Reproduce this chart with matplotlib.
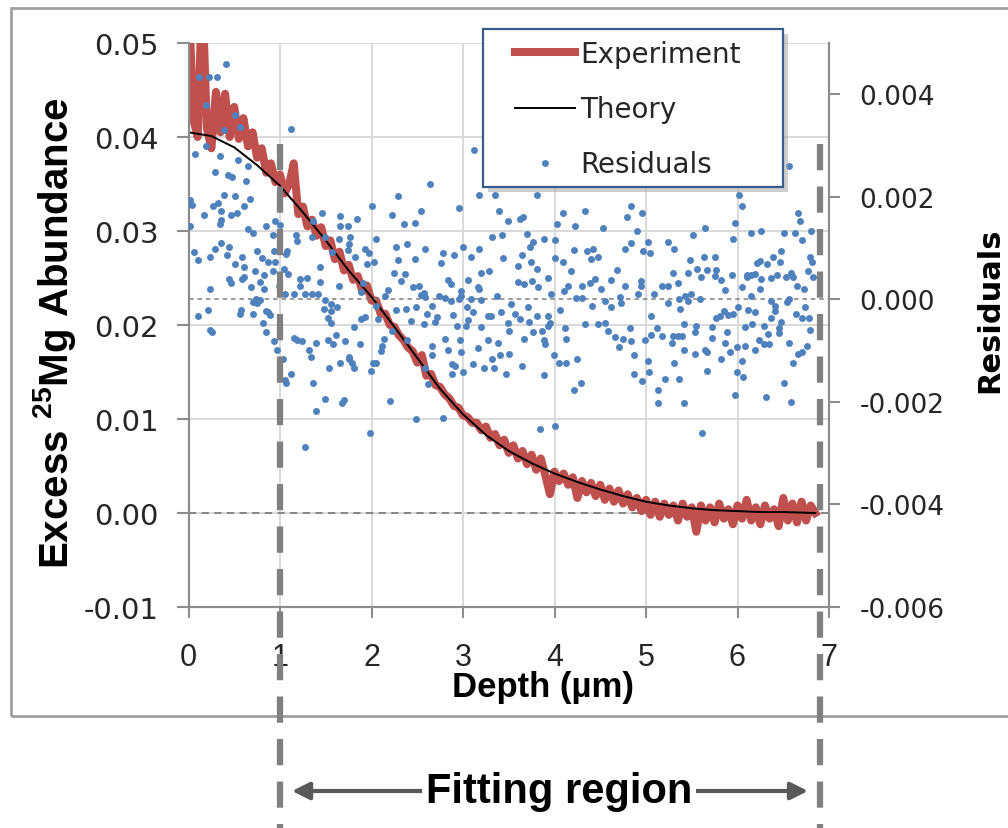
import matplotlib

matplotlib.use("Agg")
import matplotlib.pyplot as plt
import matplotlib.transforms as mtransforms
import numpy as np
from matplotlib.lines import Line2D
from matplotlib.patches import FancyArrowPatch, Rectangle

plt.rcParams["font.family"] = ["DejaVu Sans"]
plt.rcParams["axes.unicode_minus"] = False
plt.rcParams["mathtext.fontset"] = "custom"
plt.rcParams["mathtext.rm"] = "Liberation Sans"
plt.rcParams["mathtext.bf"] = "Liberation Sans:bold"

# measured profile, abundance in units of 1e-3
exp_depth = [
    0.00, 0.05, 0.10, 0.15, 0.20, 0.25, 0.30, 0.35, 0.40, 0.45,
    0.50, 0.55, 0.60, 0.65, 0.70, 0.75, 0.80, 0.85, 0.90, 0.95,
    1.00, 1.05, 1.10, 1.15, 1.20, 1.25, 1.30, 1.35, 1.40, 1.45,
    1.50, 1.55, 1.60, 1.65, 1.70, 1.75, 1.80, 1.85, 1.90, 1.95,
    2.00, 2.05, 2.10, 2.15, 2.20, 2.25, 2.30, 2.35, 2.40, 2.45,
    2.50, 2.55, 2.60, 2.65, 2.70, 2.75, 2.80, 2.85, 2.90, 2.95,
    3.00, 3.05, 3.10, 3.15, 3.20, 3.25, 3.30, 3.35, 3.40, 3.45,
    3.50, 3.55, 3.60, 3.65, 3.70, 3.75, 3.80, 3.85, 3.90, 3.95,
    4.00, 4.05, 4.10, 4.15, 4.20, 4.25, 4.30, 4.35, 4.40, 4.45,
    4.50, 4.55, 4.60, 4.65, 4.70, 4.75, 4.80, 4.85, 4.90, 4.95,
    5.00, 5.05, 5.10, 5.15, 5.20, 5.25, 5.30, 5.35, 5.40, 5.45,
    5.50, 5.55, 5.60, 5.65, 5.70, 5.75, 5.80, 5.85, 5.90, 5.95,
    6.00, 6.05, 6.10, 6.15, 6.20, 6.25, 6.30, 6.35, 6.40, 6.45,
    6.50, 6.55, 6.60, 6.65, 6.70, 6.75, 6.80, 6.85,
]
exp_milli = [
    56.0, 42.0, 40.0, 56.0, 41.0, 38.8, 44.8, 40.5, 44.6, 40.0,
    43.2, 39.8, 42.0, 39.0, 40.5, 37.8, 38.8, 36.2, 37.2, 35.2,
    36.0, 34.0, 35.0, 37.2, 31.8, 32.6, 30.5, 31.2, 29.5, 30.4,
    28.4, 29.0, 27.0, 27.8, 25.8, 26.4, 24.8, 25.2, 23.6, 24.2,
    22.6, 22.6, 21.2, 21.2, 20.0, 19.8, 18.9, 18.4, 17.6, 17.2,
    16.0, 16.8, 14.6, 14.8, 13.6, 13.4, 12.6, 12.2, 11.4, 11.2,
    10.4, 10.2, 9.6, 9.6, 8.8, 9.2, 8.0, 8.4, 7.2, 7.8,
    6.4, 7.2, 5.8, 6.6, 5.2, 6.2, 4.6, 5.8, 4.0, 2.0,
    4.4, 3.4, 4.2, 3.0, 3.8, 1.6, 3.4, 2.2, 3.2, 1.8,
    3.0, 1.4, 2.6, 1.2, 2.4, 1.0, 2.0, 0.6, 1.6, 0.2,
    1.4, -0.2, 1.2, -0.4, 1.0, -0.2, 0.8, -0.8, 1.0, -0.4,
    0.6, -2.0, 0.8, -0.8, 0.6, -1.0, 1.0, -0.6, 0.4, -1.2,
    0.8, -0.6, 1.4, -0.8, 0.6, -1.2, 0.8, -0.6, 0.4, -1.4,
    1.6, -0.8, 1.0, -1.0, 1.2, -0.8, 0.8, 0.0,
]

# fitted diffusion profile, units of 1e-3
theory_depth = [0.0, 0.25, 0.5, 0.75, 1.0, 1.25, 1.5, 1.75, 2.0, 2.25, 2.5, 2.75, 3.0, 3.25,
                3.5, 3.75, 4.0, 4.25, 4.5, 4.75, 5.0, 5.25, 5.5, 5.75, 6.0, 6.25, 6.5, 6.85]
theory_milli = [40.5, 40.1, 38.9, 37.0, 34.8, 32.0, 29.0, 25.8, 23.0, 19.8, 16.5, 13.2, 10.5, 8.3,
                6.6, 5.3, 4.2, 3.3, 2.5, 1.8, 1.2, 0.8, 0.5, 0.3, 0.2, 0.1, 0.1, 0.0]

# residuals (right axis), units of 1e-3
res_depth = [
    # 0 - 1.8 um
    0.41, 0.12, 0.22, 0.31, 0.19, 0.51, 0.39, 0.56, 1.12, 0.19,
    0.07, 0.34, 0.54, 0.65, 0.29, 0.43, 0.48, 0.63, 0.39, 0.51,
    0.02, 0.035, 0.67, 0.61, 0.27, 0.32, 0.36, 0.17, 0.46, 0.53,
    0.36, 0.34, 0.02, 0.65, 0.71, 0.85, 0.95, 1.00, 0.92, 0.06,
    0.10, 0.24, 0.29, 0.36, 0.44, 0.42, 0.59, 0.75, 0.80, 0.93,
    0.87, 0.95, 0.51, 0.61, 0.73, 0.92, 1.04, 1.09, 0.44, 0.46,
    0.61, 0.58, 0.83, 0.78, 0.68, 0.83, 0.24, 0.99, 1.05, 1.15,
    1.22, 1.30, 1.22, 1.44, 1.27, 1.35, 1.41, 0.74, 0.75, 0.78,
    0.71, 1.49, 1.48, 0.21, 0.57, 0.56, 0.71, 0.85, 0.89, 0.87,
    0.10, 1.56, 1.62, 1.56, 1.53, 1.56, 0.81, 0.24, 0.26, 0.85,
    0.93, 0.97, 1.15, 1.19, 1.24, 1.39, 1.32, 1.34, 1.53, 1.58,
    1.61, 1.71, 1.03, 1.12, 1.05, 1.07, 1.54, 1.66, 1.75, 1.36,
    1.49, 1.39, 1.68, 1.70, 1.27, 1.46, 1.36, 1.66, 1.66, 1.74,
    1.17, 1.19, 1.35, 1.49, 1.64, 1.57, 1.74, 1.08, 1.07, 1.44,
    1.64, 1.75,
    # 1.8 - 3.5 um
    3.12, 2.64, 2.29, 2.00, 2.22, 2.35, 2.47, 2.54, 2.96, 3.18,
    3.35, 3.39, 3.49, 1.84, 1.76, 2.05, 1.93, 1.97, 2.03,
    1.95, 1.82, 2.27, 2.39, 2.29, 2.47, 2.59, 2.25, 2.37, 2.32,
    2.18, 2.15, 2.45, 2.52, 2.54, 2.58, 2.66, 2.49, 2.38, 2.27,
    2.78, 2.90, 2.76, 3.00, 3.09, 3.18, 3.28, 3.20, 3.16, 3.06,
    2.84, 2.87, 2.74, 2.80, 2.87, 2.98, 2.98, 3.09, 3.20, 3.37,
    3.44, 3.43, 3.32, 3.04, 3.11, 3.06, 3.03, 2.93, 2.89, 2.72,
    2.69, 2.61, 2.57, 2.43, 3.20, 3.27, 3.31, 3.41, 3.49, 2.80,
    2.97, 2.84, 2.66, 2.66, 2.98, 3.16, 3.27, 3.38, 3.40, 3.32,
    3.50, 3.11, 3.23, 3.34, 2.88, 2.91, 2.88, 3.00, 3.47, 1.87,
    1.75, 1.79, 1.81, 2.02, 2.05, 1.99, 2.10, 2.12, 2.14,
    1.81, 1.93, 2.20, 2.49, 2.78, 1.98, 2.62, 2.58, 1.88,
    1.91, 1.88, 2.05, 2.07, 2.22, 2.39, 2.57, 3.18, 2.96,
    # 3.5 - 5.2 um
    3.81, 4.09, 4.33, 4.84, 4.96, 4.79, 3.62, 3.66, 4.03,
    4.22, 4.53, 4.90, 4.84, 4.77, 4.97, 5.04, 5.02, 5.24, 3.70,
    3.77, 3.73, 3.89, 4.01, 4.21, 4.35, 4.42, 4.48, 4.40, 3.65,
    3.60, 3.74, 3.81, 4.01, 4.09, 4.18, 3.93, 3.60, 3.67, 3.75,
    3.82, 3.96, 4.10, 4.15, 4.30, 4.39, 4.44, 4.51, 4.62, 4.68,
    4.77, 4.95, 4.95, 4.91, 5.09, 5.17, 5.24, 4.23, 4.30, 4.41,
    4.55, 4.62, 4.72, 4.73, 3.53, 3.71, 3.57, 3.62, 3.72, 3.81,
    3.93, 3.93, 4.06, 3.95, 4.11, 4.33, 4.48, 4.55, 4.59, 4.66,
    4.75, 4.84, 4.83, 4.70, 5.06, 5.12, 5.17, 5.05, 4.99, 3.50,
    3.67, 3.77, 3.86, 3.88, 3.90, 4.13, 3.99, 4.05,
    4.13, 4.25, 3.64, 3.89, 4.87, 5.02, 4.87, 5.03, 4.96,
    5.21, 4.29, 4.21, 5.13, 5.13, 3.84, 4.01,
    # 5.2 - 6.9 um
    6.56, 6.02, 6.05, 5.97, 5.95, 6.66, 6.68, 5.65, 5.51, 6.15,
    6.26, 6.51, 6.63, 6.80, 6.70, 5.31, 6.48, 5.48, 5.56,
    5.63, 5.75, 5.67, 5.60, 5.46, 5.29, 5.35, 5.77, 5.75,
    5.82, 5.94, 5.86, 6.05, 6.10, 6.15, 6.21, 6.25, 6.32, 6.39,
    6.46, 6.37, 6.43, 6.53, 6.58, 6.61, 6.26, 6.19, 6.10, 6.79,
    6.81, 6.77, 6.83, 6.73, 6.65, 6.25, 6.15, 5.43, 5.49, 5.36,
    5.59, 5.37, 5.24, 5.46, 6.37, 6.41, 6.56, 6.54, 6.74, 6.00,
    5.95, 6.12, 6.19, 5.85, 5.77, 5.90, 5.81, 6.37, 6.41, 6.64,
    6.71, 6.78, 5.42, 5.55, 5.72, 6.08, 6.16, 6.29, 6.48, 6.45,
    6.45, 6.33, 6.79, 5.54, 5.72, 5.89, 5.29, 5.35, 5.39, 5.28,
    6.24, 6.29, 6.34, 6.56, 6.76, 5.86, 5.99, 6.08, 6.19, 5.92,
    5.41, 5.54, 5.64, 5.67, 6.66, 6.70, 5.82, 6.05, 5.31, 6.61,
    5.67, 5.99, 6.06, 5.36, 6.51, 5.97, 6.31, 6.59,
    5.41, 5.61,
]
res_milli = [
    4.59, 4.33, 4.33, 4.33, 3.80, 3.59, 3.31, 3.36, 3.33, 3.00,
    2.84, 2.79, 2.71, 2.61, 2.48, 2.43, 2.39, 2.30, 2.04, 2.01,
    1.94, 1.84, 1.95, 1.83, 1.83, 1.88, 1.73, 1.65, 1.65, 1.68,
    1.55, 1.47, 1.43, 1.37, 1.29, 1.43, 1.52, 1.46, 1.26, 0.92,
    0.76, 0.82, 0.98, 1.09, 1.03, 0.86, 0.82, 0.95, 0.80, 0.95,
    0.73, 0.73, 0.69, 0.63, 0.56, 0.56, 0.60, 0.50, 0.39, 0.31,
    0.44, 0.39, 0.47, 0.33, 0.24, 0.21, 0.21, 0.27, 0.11, 0.11,
    0.40, 0.42, 0.27, 0.34, 0.10, 0.11, 0.11, 0.00, -0.07, -0.02,
    -0.05, -0.02, -0.18, -0.20, -0.20, -0.29, -0.29, -0.23, -0.31, -0.25,
    -0.33, -0.09, -0.15, -0.23, -0.36, -0.46, -0.46, -0.59, -0.64, -0.64,
    -0.82, -0.99, -0.76, -0.80, -0.82, -0.86, -0.99, -1.12, -0.80, -0.88,
    -0.69, -0.82, -1.16, -1.46, -1.57, -1.64, -1.34, -1.25, -1.16, -1.64,
    -1.95, -2.18, -2.03, -1.97, -2.88, 1.69, 1.52, 1.63, 1.43, 1.43,
    1.26, 1.13, 1.21, 1.22, 1.17, 0.93, 0.97, 0.95, 0.88, 0.63,
    0.27, 1.08,
    2.92, 2.25, 2.01, 1.82, 1.65, 1.47, 1.48, 1.73, 1.78, 2.04,
    2.04, 1.73, 1.52, 1.56, 1.22, 1.17, 0.99, 0.90, 0.73,
    0.69, 0.82, 1.03, 1.08, 0.76, 0.78, 0.98, 0.52, 0.50, 0.36,
    0.19, 0.06, 0.24, 0.27, 0.08, 0.05, -0.12, -0.15, -0.18, -0.20,
    0.91, 0.86, 0.70, 1.03, 0.82, 0.99, 0.56, 0.52, 0.24, 0.37,
    0.37, 0.29, 0.06, 0.03, -0.03, 0.16, 0.06, 0.01, -0.02, 0.06,
    0.80, 1.26, 1.21, -0.15, -0.25, -0.41, -0.51, -0.51, -0.31, -0.35,
    -0.45, -0.29, -0.48, -0.42, -0.54, -0.33, -0.33, -0.25, -0.46, -0.77,
    -0.80, -0.99, -0.90, -1.08, -1.03, -0.95, -0.80, -0.86, -1.08, -1.16,
    -1.07, -1.26, -1.34, -1.34, -1.27, -1.29, -1.46, -1.42, -1.46, -0.87,
    -1.12, -1.25, -1.34, -1.25, -1.25, -1.39, -1.01, -0.90, -0.77,
    -0.54, -0.35, -1.99, -2.34, -2.31, -2.60, -1.65, -1.33, -0.38,
    0.31, 0.14, -0.12, -0.38, -0.61, -0.79, 0.12, 0.21, 0.00,
    2.04, 1.69, 1.73, 1.83, 1.68, 1.60, 1.56, 1.60, 1.47,
    1.43, 1.39, 1.34, 1.09, 0.99, 0.95, 0.91, 1.12, 1.12, 1.27,
    1.12, 1.03, 1.17, 1.16, 0.97, 0.95, 0.99, 0.82, 0.78, 0.86,
    0.65, 0.73, 0.60, 0.80, 0.73, 0.56, 0.42, 0.34, 0.29, 0.36,
    0.24, 0.11, 0.16, 0.27, 0.26, 0.31, 0.39, 0.21, 0.37, 0.58,
    0.26, 0.36, 0.27, 0.10, 0.11, 0.26, 0.27, 0.03, 0.03, -0.12,
    -0.03, -0.15, 0.05, -0.07, -0.09, -0.15, -0.29, -0.38, -0.44, -0.33,
    -0.33, -0.51, -0.20, -0.46, -0.56, -0.49, -0.49, -0.46, -0.62, -0.73,
    -0.77, -0.82, -0.56, -0.93, -0.33, -0.56, -0.71, -0.69, -0.80, -0.62,
    -0.77, -0.64, -0.62, -0.80, -0.88, -0.77, -1.08, -1.25,
    -1.25, -1.16, -1.29, -1.47, -1.08, -1.21, -1.46, -1.42, -1.60,
    -1.56, -1.64, -1.77, -1.77, -2.03, -2.52, -2.47,
    2.61, 2.04, 1.82, 1.48, 1.17, 1.69, 1.52, 1.39, 1.26, 1.30,
    1.34, 1.30, 1.30, 1.34, 1.16, 0.99, 0.95, 0.76, 0.60,
    0.82, 0.82, 0.58, 0.43, 0.52, 0.52, 0.31, 0.57, 0.45,
    0.37, 0.47, 0.18, 0.24, 0.43, 0.47, 0.71, 0.75, 0.69, 0.82,
    0.73, 0.41, 0.47, 0.44, 0.52, 0.43, 0.39, 0.50, 0.47, 0.82,
    0.73, 0.55, 0.43, 0.21, 0.26, 0.21, 0.06, 0.06, 0.10, 0.01,
    0.01, -0.18, -0.07, -0.03, -0.03, -0.12, 0.01, -0.05, -0.15, -0.15,
    -0.28, -0.20, -0.25, -0.23, -0.36, -0.31, -0.33, -0.36, -0.23, -0.29,
    -0.36, -0.36, -0.49, -0.51, -0.53, -0.53, -0.49, -0.51, -0.45, -0.56,
    -0.66, -0.67, -0.59, -0.64, -0.75, -0.64, -0.71, -0.71, -0.71, -0.86,
    -0.79, -0.88, -0.88, -0.86, -0.90, -0.86, -0.93, -0.90, -0.99, -1.03,
    -0.99, -1.07, -0.99, -1.03, -1.07, -1.03, -1.16, -1.21, -1.25, -1.25,
    -1.39, -1.42, -1.51, -1.56, -1.64, -1.86, -1.90, -2.00,
    -2.03, -2.60,
]

fit_bounds = [1.0, 6.9]
x_ticks = [0, 1, 2, 3, 4, 5, 6, 7]
left_ticks = [-0.01, 0.00, 0.01, 0.02, 0.03, 0.04, 0.05]
right_ticks = [-0.006, -0.004, -0.002, 0.000, 0.002, 0.004]

W, H = 1008, 829
RED = "#C0504D"
BLUE = "#4F81BD"
AXIS_GREY = "#8C8C8C"
TEXT = "#262626"


def fx(px):
    return px / W


def fy(py):
    return 1 - py / H


fig = plt.figure(figsize=(W / 100, H / 100), dpi=100)
fig.patch.set_facecolor("white")
ax = fig.add_axes([fx(188.5), fy(608), 640.5 / W, 564 / H])
ax2 = ax.twinx()

# outer chart border
fig.add_artist(Rectangle((fx(11), fy(717)), fx(1040) - fx(11), fy(9) - fy(717),
                         transform=fig.transFigure, fill=False, ec="#A0A0A0", lw=2, zorder=0))

ax.set_xlim(0, 7)
ax.set_ylim(-0.01, 0.05)
ax2.set_ylim(-0.006, 0.005)
ax.set_xticks(x_ticks)
ax.set_xticklabels([str(t) for t in x_ticks], fontfamily="Liberation Sans", fontsize=22, color=TEXT)
ax.set_yticks(left_ticks)
ax.set_yticklabels([f"{t:.2f}" for t in left_ticks], fontsize=21, color=TEXT)
ax2.set_yticks(right_ticks)
ax2.set_yticklabels([f"{t:.3f}" for t in right_ticks], fontsize=19, color=TEXT)

ax.grid(True, color="#D9D9D9", lw=1.4)
ax.set_axisbelow(True)
for a in (ax, ax2):
    a.spines["top"].set_visible(False)
    for side in ("left", "bottom", "right"):
        a.spines[side].set_color(AXIS_GREY)
        a.spines[side].set_linewidth(1.5)
ax.tick_params(axis="y", direction="out", length=8.5, width=1.5, color=AXIS_GREY, pad=13)
ax.tick_params(axis="x", direction="out", length=8, width=1.5, color=AXIS_GREY, pad=17)
ax2.tick_params(axis="y", direction="out", length=8, width=1.5, color=AXIS_GREY, pad=14)

ax.axhline(0, color="#7F7F7F", lw=1.3, ls=(0, (4, 3)), zorder=1)
ax2.axhline(0, color="#7F7F7F", lw=1.1, ls=(0, (3, 2.5)), zorder=1)

ax.plot(exp_depth, np.array(exp_milli) * 1e-3, color=RED, lw=5.8, solid_joinstyle="round", zorder=2)
ax.plot(theory_depth, np.array(theory_milli) * 1e-3, color="black", lw=1.4, zorder=3)
ax2.plot(res_depth, np.array(res_milli) * 1e-3, "o", ms=5, color=BLUE, mec="none", ls="none", zorder=3)

# axis titles
fig.text(fx(55), fy(333), r"Excess $^{\mathbf{25}}$Mg Abundance", rotation=90, ha="center", va="center",
         fontsize=29, fontweight="bold", fontfamily="Liberation Sans", color="black")
fig.text(fx(543), fy(688), "Depth (µm)", ha="center", va="center",
         fontsize=25, fontweight="bold", fontfamily="Liberation Sans", color="black")
fig.text(fx(990), fy(310), "Residuals", rotation=90, ha="center", va="center",
         fontsize=22, fontweight="bold", color="black")

# legend box with shadow
lx0, ly0, lx1, ly1 = 483, 30, 783, 188
fig.add_artist(Rectangle((fx(lx0 + 5), fy(ly1 + 5)), fx(lx1) - fx(lx0), fy(ly0) - fy(ly1),
                         transform=fig.transFigure, fc="#A6A6A6", ec="none", alpha=0.55, zorder=2))
fig.add_artist(Rectangle((fx(lx0), fy(ly1)), fx(lx1) - fx(lx0), fy(ly0) - fy(ly1),
                         transform=fig.transFigure, fc="white", ec="#385D8A", lw=1.6, zorder=3))
handles = [
    Line2D([], [], color=RED, lw=5.8),
    Line2D([], [], color="black", lw=1.4),
    Line2D([], [], color=BLUE, marker="o", ms=5, mec="none", ls="none"),
]
leg = fig.legend(handles, ["Experiment", "Theory", "Residuals"], loc="upper left",
                 bbox_to_anchor=(fx(515), fy(41)), frameon=False, fontsize=20,
                 handlelength=2.16, handletextpad=0.2, labelspacing=0.98,
                 borderpad=0, borderaxespad=0)
leg.set_zorder(5)
for t in leg.get_texts():
    t.set_color(TEXT)

# fitting-region guides
trans = mtransforms.blended_transform_factory(ax.transData, fig.transFigure)
for xb in fit_bounds:
    fig.add_artist(Line2D([xb, xb], [fy(145), 0], transform=trans, color="#808080", lw=4.5,
                          dashes=(4.2, 2.6), dash_capstyle="butt", zorder=6))

fig.add_artist(FancyArrowPatch((fx(292), fy(792)), (fx(808), fy(792)),
                               transform=fig.transFigure, arrowstyle="<|-|>",
                               mutation_scale=26, color="#595959", lw=3,
                               shrinkA=0, shrinkB=0, zorder=6))
fig.text(fx(559), fy(792), "Fitting region", ha="center", va="center", fontsize=30,
         fontweight="bold", fontfamily="Liberation Sans", color="black", zorder=7,
         bbox=dict(fc="white", ec="none", pad=3))

fig.savefig("out.png", dpi=100)
